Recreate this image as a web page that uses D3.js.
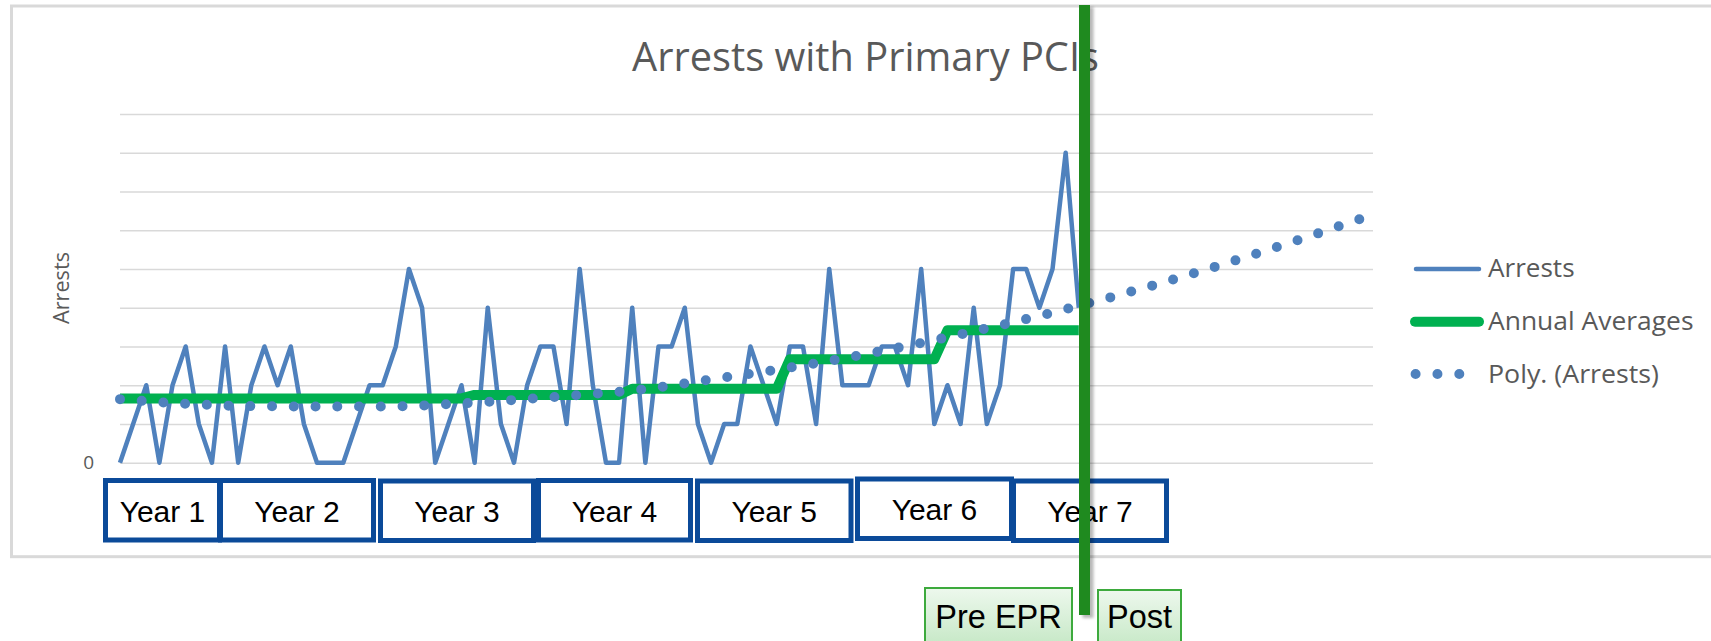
<!DOCTYPE html>
<html><head><meta charset="utf-8">
<script src="https://cdn.jsdelivr.net/npm/d3@7"></script>
<style>body{margin:0;background:#fff;} svg{display:block;}</style>
</head><body>
<svg id="chart" width="1711" height="641"></svg>
<script>
// ---------------- DATA ----------------
const chartTitle = "Arrests with Primary PCIs";
const yAxisTitle = "Arrests";
const yTickValues = [0,1,2,3,4,5,6,7,8,9];
const yTickLabels = ["0"];           // only the zero label is shown
const seriesNames = ["Arrests", "Annual Averages", "Poly. (Arrests)"];
// monthly arrests (index = period)
const arrests = [0,1,2,0,2,3,1,0,3,0, 2,3,2,3,1,0,0,0,1,2, 2,3,5,4,0,1,2,0,4,1,
                 0,2,3,3,1,5,2,0,0,4, 0,3,3,4,1,0,1,1,3,2, 1,3,3,1,5,2,2,2,3,3,
                 2,5,1,2,1,4,1,2,5,5, 4,5,8,4];
// annual averages: first period index of each averaging block and its value
const avgStarts = [0, 27, 39, 51, 63];
const avgValues = [1.66, 1.75, 1.91, 2.67, 3.42];
// polynomial trend line (period index, value)
const trendIdx = [0,5,10,15,20,25,30,35,40,45,50,55,60,65,70,75,80,85,90,94.4];
const trendVal = [1.64,1.52,1.46,1.45,1.45,1.51,1.62,1.75,1.90,2.15,2.40,2.69,3.02,3.39,3.79,4.23,4.71,5.23,5.78,6.29];
const yearLabels = ["Year 1","Year 2","Year 3","Year 4","Year 5","Year 6","Year 7"];
const phaseLabels = ["Pre EPR","Post"];

// ---------------- LAYOUT ----------------
const svg = d3.select("#chart");
const x = d3.scaleLinear().domain([0, 95.4]).range([120, 1373]);
const y = d3.scaleLinear().domain([0, 9]).range([462.7, 114]);
const grey = "#595959";
const uiFont = "'Open Sans', 'Noto Sans', sans-serif";
const boxFont = "'Liberation Sans', Arial, sans-serif";

const defs = svg.append("defs");
const grad = defs.append("linearGradient").attr("id","greenGrad").attr("x1",0).attr("y1",0).attr("x2",0).attr("y2",1);
grad.append("stop").attr("offset","0%").attr("stop-color","#edf8ed");
grad.append("stop").attr("offset","100%").attr("stop-color","#b7e2b7");
const blur = defs.append("filter").attr("id","shadow").attr("x","-50%").attr("y","-5%").attr("width","200%").attr("height","110%");
blur.append("feGaussianBlur").attr("stdDeviation",1.6);

// chart frame
svg.append("rect").attr("x",11.5).attr("y",6).attr("width",1750).attr("height",550.7)
   .attr("fill","#fff").attr("stroke","#d9d9d9").attr("stroke-width",3);

// gridlines + zero label
const yAxis = d3.axisLeft(y).tickValues(yTickValues)
  .tickSize(-(x.range()[1]-x.range()[0])).tickPadding(26)
  .tickFormat(d => yTickLabels.includes(String(d)) ? String(d) : "");
const gy = svg.append("g").attr("transform", `translate(${x.range()[0]},0)`).call(yAxis);
gy.select(".domain").remove();
gy.selectAll(".tick line").attr("stroke","#d9d9d9").attr("stroke-width",1.5);
gy.selectAll(".tick text").attr("font-family",uiFont).attr("font-size",19).attr("fill",grey);

// title
svg.append("text").attr("x",865.5).attr("y",70.7).attr("text-anchor","middle")
  .attr("font-family",uiFont).attr("font-size",40).attr("fill",grey)
  .attr("textLength",467).attr("lengthAdjust","spacingAndGlyphs").text(chartTitle);

// y axis title
svg.append("text").attr("transform","translate(69,288) rotate(-90)").attr("text-anchor","middle")
  .attr("font-family",uiFont).attr("font-size",22).attr("fill",grey)
  .attr("textLength",72).attr("lengthAdjust","spacingAndGlyphs").text(yAxisTitle);

// series: arrests
const line = d3.line().x(d => x(d[0])).y(d => y(d[1]));
svg.append("path").datum(arrests.map((v,i)=>[i,v])).attr("d",line)
  .attr("fill","none").attr("stroke","#4f81bd").attr("stroke-width",4.5).attr("stroke-linejoin","round");

// series: annual averages
const avgPts = [];
avgStarts.forEach((s,k) => {
  const e = k < avgStarts.length-1 ? avgStarts[k+1]-1 : arrests.length-1;
  for (let i = s; i <= e; i++) avgPts.push([i, avgValues[k]]);
});
svg.append("path").datum(avgPts).attr("d",line)
  .attr("fill","none").attr("stroke","#00b050").attr("stroke-width",10).attr("stroke-linejoin","round");

// trend line (dotted)
const trendLine = d3.line().x(d => x(d[0])).y(d => y(d[1])).curve(d3.curveMonotoneX);
svg.append("path").datum(trendIdx.map((t,i)=>[t,trendVal[i]])).attr("d",trendLine)
  .attr("fill","none").attr("stroke","#4f81bd").attr("stroke-width",10)
  .attr("stroke-linecap","round").attr("stroke-dasharray","0 21.75");

// legend
const lg = svg.append("g");
lg.append("line").attr("x1",1416).attr("x2",1479).attr("y1",269).attr("y2",269)
  .attr("stroke","#4f81bd").attr("stroke-width",4.5).attr("stroke-linecap","round");
lg.append("line").attr("x1",1415).attr("x2",1479).attr("y1",321.7).attr("y2",321.7)
  .attr("stroke","#00b050").attr("stroke-width",10).attr("stroke-linecap","round");
lg.append("line").attr("x1",1415.6).attr("x2",1460).attr("y1",374).attr("y2",374)
  .attr("stroke","#4f81bd").attr("stroke-width",10).attr("stroke-linecap","round").attr("stroke-dasharray","0 21.85");
const legendText = [[277.3, 86.6],[330, 205.5],[382.7, 171]];
seriesNames.forEach((n,i) => {
  lg.append("text").attr("x",1488).attr("y",legendText[i][0])
    .attr("font-family",uiFont).attr("font-size",26).attr("fill",grey)
    .attr("textLength",legendText[i][1]).attr("lengthAdjust","spacingAndGlyphs").text(n);
});

// year boxes (annotation shapes)
const yearBoxLayout = [[103,222,478],[218,376,478],[378,536,478.5],[536,693,478],[695,853.5,478.5],[855,1014,476.5],[1011,1169,478.5]];
const yb = svg.append("g");
yearLabels.forEach((lab,i) => {
  const [x0,x1,t] = yearBoxLayout[i];
  yb.append("rect").attr("x",x0+2.5).attr("y",t+2.5).attr("width",x1-x0-5).attr("height",59.5)
    .attr("fill","#fff").attr("stroke","#0b4a99").attr("stroke-width",5);
  yb.append("text").attr("x",(x0+x1)/2).attr("y",t+43.5).attr("text-anchor","middle")
    .attr("font-family",boxFont).attr("font-size",30).attr("fill","#000").text(lab);
});

// phase boxes
const phaseLayout = [[924,1073,587],[1097,1182,589]];
phaseLabels.forEach((lab,i) => {
  const [x0,x1,t] = phaseLayout[i];
  svg.append("rect").attr("x",x0+1).attr("y",t+1).attr("width",x1-x0-2).attr("height",80)
    .attr("fill","url(#greenGrad)").attr("stroke","#3daa3d").attr("stroke-width",2);
  svg.append("text").attr("x",(x0+x1)/2).attr("y",628.3).attr("text-anchor","middle")
    .attr("font-family",boxFont).attr("font-size",32.5).attr("fill","#000").text(lab);
});

// vertical EPR divider
svg.append("rect").attr("x",1082.5).attr("y",7).attr("width",11).attr("height",611)
  .attr("fill","#000").attr("opacity",0.28).attr("filter","url(#shadow)");
svg.append("rect").attr("x",1079).attr("y",5).attr("width",11).attr("height",610).attr("fill","#1f8a1f");
</script>
</body></html>
